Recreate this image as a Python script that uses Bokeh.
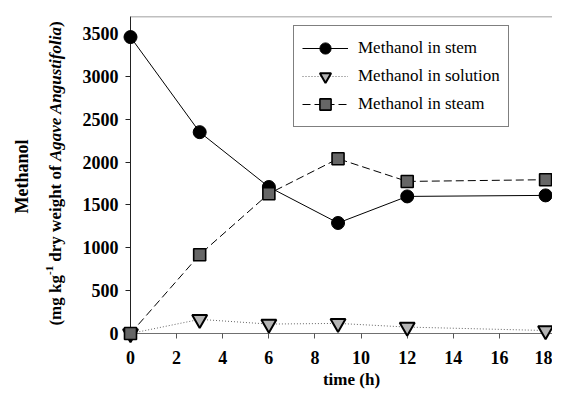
import glob
import math
from bokeh.plotting import figure
from bokeh.models import Range1d, Span, Legend, LegendItem, FixedTicker
from bokeh.core.properties import value
from bokeh.embed import file_html
from bokeh.resources import INLINE

# ---- data ----
time_h = [0, 3, 6, 9, 12, 18]
stem = [3460, 2350, 1710, 1290, 1600, 1612]
solution = [0, 165, 110, 118, 75, 35]
steam = [0, 920, 1632, 2040, 1775, 1795]
x_ticks = [0, 2, 4, 6, 8, 10, 12, 14, 16, 18]
y_ticks = [0, 500, 1000, 1500, 2000, 2500, 3000, 3500]
series_names = ["Methanol in stem", "Methanol in solution", "Methanol in steam"]
x_title = "time (h)"
y_title_1 = "Methanol"

# ---- layout ----
W, H = 552, 389
LEFT, RIGHT, TOP, BOTTOM = 130, 0, 16, 56
X_END, Y_END = 18.3, 3700
FW, FH = W - LEFT - RIGHT, H - TOP - BOTTOM
FONT = "Liberation Serif"
FS = 17
TICK_FS = 18


def ix(px):
    return (px - LEFT) * X_END / FW


def iy(py):
    return (TOP + FH - py) * Y_END / FH


def find_font(name):
    for d in ["/usr/share/fonts", "/usr/local/share/fonts", "/usr/lib/fonts"]:
        hits = glob.glob(d + "/**/" + name, recursive=True)
        if hits:
            return hits[0]
    return None


def text_width(text, style, size):
    fname = {"bold": "LiberationSerif-Bold.ttf",
             "bold italic": "LiberationSerif-BoldItalic.ttf",
             "normal": "LiberationSerif-Regular.ttf"}[style]
    path = find_font(fname)
    if path:
        try:
            from PIL import ImageFont
            return ImageFont.truetype(path, size).getlength(text)
        except Exception:
            pass
    return 0.5 * size * len(text)


p = figure(width=W, height=H, output_backend="svg", toolbar_location=None,
           x_range=Range1d(0, X_END), y_range=Range1d(0, Y_END),
           min_border_left=LEFT, min_border_right=RIGHT,
           min_border_top=TOP, min_border_bottom=BOTTOM)
p.grid.visible = False
p.outline_line_color = None
p.background_fill_color = "white"
p.border_fill_color = "white"

# lines + markers
l1 = p.line(time_h, stem, line_color="black", line_width=1)
l2 = p.line(time_h, solution, line_color="#666666", line_dash="1 2", line_width=1)
l3 = p.line(time_h, steam, line_color="black", line_dash="8 4", line_width=1)
m1 = p.scatter(time_h, stem, marker="circle", size=13, fill_color="black",
               line_color="black", level="overlay")
m2 = p.scatter(time_h, solution, marker="inverted_triangle", size=15,
               fill_color="#b4b4b4", line_color="black", line_width=2, level="overlay")
m3 = p.scatter(time_h, steam, marker="square", size=12, fill_color="#666666",
               line_color="black", line_width=1.6, level="overlay")

# top frame border
p.add_layout(Span(location=Y_END, dimension="width", line_color="#808080", line_width=1.5))

# axes
for ax, ticks in ((p.xaxis[0], x_ticks), (p.yaxis[0], y_ticks)):
    ax.ticker = FixedTicker(ticks=ticks)
    ax.minor_tick_out = 0
    ax.minor_tick_in = 0
    ax.major_tick_in = 0
    ax.major_tick_out = 5
    ax.major_label_text_font = FONT
    ax.major_label_text_font_style = "bold"
    ax.major_label_text_font_size = f"{TICK_FS}px"
    ax.major_label_text_color = "black"
p.yaxis.axis_line_color = "#222222"
p.yaxis.major_tick_line_color = "#222222"
p.xaxis.axis_line_color = "#707070"
p.xaxis.major_tick_line_color = "#555555"
p.yaxis.major_label_standoff = 7
p.xaxis.major_label_standoff = 12

# x axis title (text glyph outside the frame)
p.text(x=[ix(351)], y=[iy(379)], text=[x_title], text_align="center",
       text_baseline="middle", text_font=value(FONT), text_font_style="bold",
       text_font_size=f"{FS}px", text_color="black", level="overlay")

# y axis title: two rotated lines
p.text(x=[ix(21)], y=[iy(176)], text=[y_title_1], angle=math.pi / 2,
       text_align="center", text_baseline="middle", text_font=value(FONT),
       text_font_style="bold", text_font_size=f"{FS + 1}px", text_color="black",
       level="overlay")

space_w = text_width(" ", "bold", FS)
pieces = [("(mg kg", "bold", FS, 0, 0),
          ("-1", "bold", 11, -6, space_w),
          ("dry weight of", "bold", FS, 0, space_w),
          ("Agave Angustifolia", "bold italic", FS, 0, 0),
          (")", "bold", FS, 0, 0)]
widths = [text_width(t, s, z) + gap for t, s, z, _, gap in pieces]
total = sum(widths)
line_x = 55
cur = 173 + total / 2
for (t, s, z, dx, gap), w in zip(pieces, widths):
    p.text(x=[ix(line_x + dx)], y=[iy(cur)], text=[t], angle=math.pi / 2,
           text_align="left", text_baseline="middle", text_font=value(FONT),
           text_font_style=s, text_font_size=f"{z}px", text_color="black",
           level="overlay")
    cur -= w

# legend
legend = Legend(items=[LegendItem(label=series_names[0], renderers=[l1, m1]),
                       LegendItem(label=series_names[1], renderers=[l2, m2]),
                       LegendItem(label=series_names[2], renderers=[l3, m3])],
                location=(163, 206))
legend.label_text_font = FONT
legend.label_text_font_size = f"{FS}px"
legend.label_text_color = "black"
legend.border_line_color = "black"
legend.border_line_width = 1
legend.background_fill_color = "white"
legend.background_fill_alpha = 1
legend.glyph_width = 46
legend.glyph_height = 28
legend.label_height = 28
legend.label_standoff = 10
legend.spacing = 0
legend.padding = 8
legend.margin = 0
p.add_layout(legend)

open("out.html", "w").write(file_html(p, INLINE))
